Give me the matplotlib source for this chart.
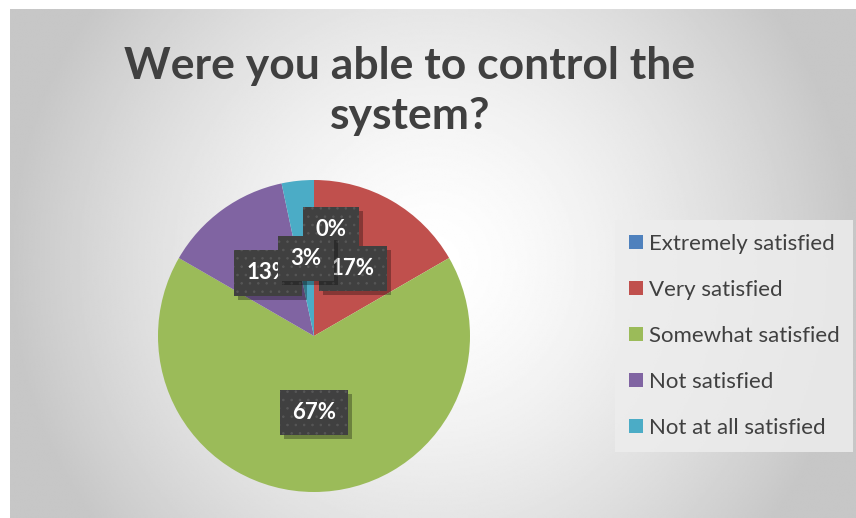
import numpy as np
import matplotlib
matplotlib.use("Agg")
import matplotlib.pyplot as plt
from matplotlib.patches import Patch
from matplotlib import patheffects as pe

# survey answers (counts), read from the percentages shown
categories = ["Extremely satisfied", "Very satisfied", "Somewhat satisfied",
              "Not satisfied", "Not at all satisfied"]
counts = [0, 5, 20, 4, 1]
colors = ["#4f81bd", "#c0504d", "#9bbb59", "#8064a2", "#4bacc6"]
title = "Were you able to control the\nsystem?"

# label placement (fraction of radius) and small nudges like the Excel layout
label_r = [0.68, 0.50, 0.49, 0.50, 0.50]
label_dx = [0.11, 0.0, 0.0, 0.0, 0.0]

plt.rcParams["font.family"] = ["Lato", "DejaVu Sans"]
plt.rcParams["hatch.linewidth"] = 0.6


class PlainShadow(pe.SimplePatchShadow):
    """Shadow without the hatch of the patch it copies."""
    def draw_path(self, renderer, gc, tpath, affine, rgbFace):
        gc0 = renderer.new_gc()
        gc0.copy_properties(gc)
        gc0.set_hatch(None)
        super().draw_path(renderer, gc0, tpath, affine, rgbFace)
        gc0.restore()


W, H = 856, 518
fig = plt.figure(figsize=(W / 100, H / 100), dpi=100)
fig.patch.set_facecolor("white")

# radial grey background of the chart area
bg = fig.add_axes([10 / W, 0, (W - 10) / W, (H - 9) / H])
yy, xx = np.mgrid[-1:1:300j, -1:1:500j]
r = np.sqrt(xx ** 2 + 0.35 * yy ** 2)
shade = 1 - 0.22 * np.clip(r, 0, 1) ** 1.5
bg.imshow(shade, cmap="gray", vmin=0, vmax=1, aspect="auto",
          extent=[0, 1, 0, 1], interpolation="bilinear")
bg.set_axis_off()

fig.text(0.479, 0.824, title, ha="center", va="center", fontsize=32,
         fontweight="bold", color="#404040", linespacing=1.3)

ax = fig.add_axes([158 / W, 26 / H, 312 / W, 312 / H])
wedges, _ = ax.pie(counts, colors=colors, startangle=90, counterclock=False,
                   radius=1.0, wedgeprops=dict(linewidth=0))
ax.set_xlim(-1, 1)
ax.set_ylim(-1, 1)
ax.set_aspect("equal")

total = sum(counts)
for i, w in enumerate(wedges):
    mid = np.deg2rad((w.theta1 + w.theta2) / 2)
    x = label_r[i] * np.cos(mid) + label_dx[i]
    y = label_r[i] * np.sin(mid)
    pct = round(counts[i] / total * 100)
    t = ax.text(x, y, f"{pct}%", ha="center", va="center", fontsize=16,
                fontweight="bold", color="white", zorder=5 + i,
                bbox=dict(boxstyle="square,pad=0.55", facecolor="#404040",
                          edgecolor="#575757", linewidth=0, hatch=".."))
    t.get_bbox_patch().set_path_effects(
        [PlainShadow(offset=(3, -3), shadow_rgbFace="black", alpha=0.3),
         pe.Normal()])

handles = [Patch(facecolor=c, edgecolor="none") for c in colors]
leg = fig.legend(handles, categories, loc="center left",
                 bbox_to_anchor=(622 / W, 1 - 336 / H), frameon=True,
                 fontsize=16, handlelength=0.62, handleheight=0.62,
                 handletextpad=0.25, labelspacing=1.17, borderpad=0.33,
                 borderaxespad=0, labelcolor="#404040")
frame = leg.get_frame()
frame.set_facecolor("#ededed")
frame.set_edgecolor("none")
frame.set_alpha(0.85)
frame.set_boxstyle("square")

fig.savefig("out.png", dpi=100)
